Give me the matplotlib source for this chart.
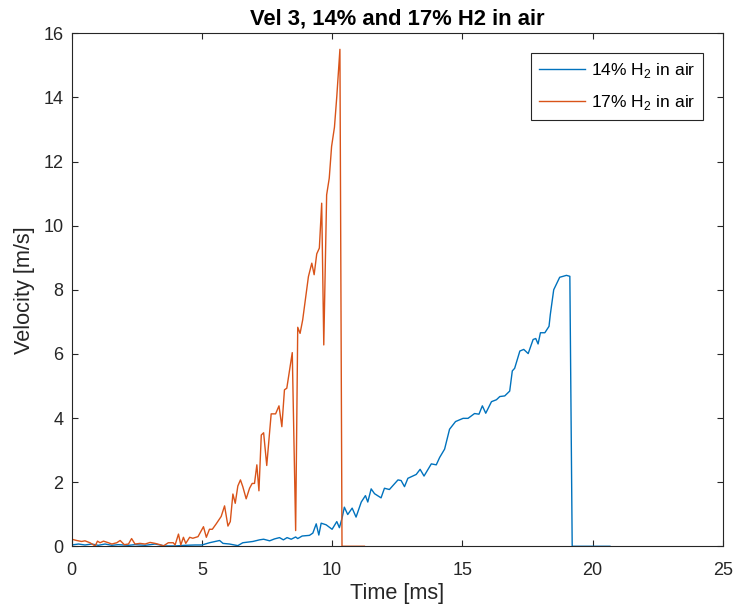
import matplotlib
matplotlib.use("Agg")
import matplotlib.pyplot as plt

# velocity traces (time in ms, velocity in m/s)
t14 = [0, 0.26, 0.51, 0.77, 1.02, 1.28, 1.54, 1.79, 2.18, 2.43, 2.82, 3.20, 3.59, 3.97,
       4.35, 4.74, 5.00, 5.29, 5.68, 5.81, 6.06, 6.38, 6.57, 6.96, 7.21, 7.37, 7.60, 7.79,
       7.98, 8.13, 8.27, 8.43, 8.60, 8.68, 8.85, 9.13, 9.26, 9.39, 9.49, 9.58, 9.77, 10.00,
       10.18, 10.28, 10.38, 10.47, 10.60, 10.77, 10.92, 11.12, 11.28, 11.37, 11.50, 11.63,
       11.88, 12.01, 12.20, 12.53, 12.65, 12.78, 12.91, 13.23, 13.38, 13.53, 13.81, 14.00,
       14.13, 14.32, 14.51, 14.74, 15.03, 15.22, 15.47, 15.64, 15.77, 15.90, 16.12, 16.31,
       16.44, 16.63, 16.82, 16.92, 17.01, 17.21, 17.36, 17.53, 17.72, 17.82, 17.91, 18.00,
       18.17, 18.33, 18.38, 18.51, 18.74, 18.87, 19.00, 19.13, 19.22, 20.67]
v14 = [0.04, 0.07, 0.04, 0.07, 0.03, 0.07, 0.03, 0.05, 0.03, 0.05, 0.03, 0.07, 0.01, 0.01,
       0.03, 0.04, 0.04, 0.11, 0.18, 0.09, 0.07, 0.02, 0.11, 0.15, 0.20, 0.22, 0.17, 0.23,
       0.27, 0.20, 0.27, 0.22, 0.29, 0.24, 0.32, 0.34, 0.41, 0.70, 0.35, 0.72, 0.67, 0.53,
       0.77, 0.58, 0.87, 1.22, 0.99, 1.19, 0.91, 1.38, 1.58, 1.38, 1.79, 1.64,
       1.51, 1.81, 1.77, 2.07, 2.05, 1.86, 2.12, 2.24, 2.40, 2.19, 2.57, 2.54,
       2.77, 3.03, 3.65, 3.89, 3.99, 3.99, 4.14, 4.12, 4.38, 4.15, 4.51, 4.57,
       4.67, 4.69, 4.84, 5.47, 5.55, 6.09, 6.14, 6.01, 6.45, 6.48, 6.31, 6.66,
       6.66, 6.86, 7.23, 8.00, 8.39, 8.42, 8.45, 8.42, 0.0, 0.0]

t17 = [0, 0.19, 0.38, 0.51, 0.70, 0.90, 0.99, 1.09, 1.22, 1.41, 1.54, 1.73, 1.86, 2.02,
       2.18, 2.30, 2.43, 2.62, 2.82, 3.01, 3.20, 3.39, 3.52, 3.71, 3.90, 3.97, 4.10, 4.19,
       4.29, 4.38, 4.53, 4.65, 4.85, 5.06, 5.17, 5.29, 5.40, 5.55, 5.74, 5.87, 6.00, 6.09,
       6.19, 6.28, 6.38, 6.48, 6.57, 6.70, 6.83, 6.93, 7.02, 7.11, 7.19, 7.28, 7.37, 7.49,
       7.66, 7.83, 7.96, 8.07, 8.17, 8.26, 8.47, 8.60, 8.68, 8.77, 8.87, 9.09, 9.22, 9.31,
       9.41, 9.51, 9.60, 9.68, 9.79, 9.89, 9.98, 10.09, 10.18, 10.30, 10.38, 11.24]
v17 = [0.22, 0.18, 0.15, 0.17, 0.11, 0.01, 0.16, 0.11, 0.16, 0.11, 0.07, 0.11, 0.18, 0.05,
       0.07, 0.24, 0.07, 0.09, 0.07, 0.12, 0.09, 0.05, 0.01, 0.11, 0.11, 0.04, 0.38, 0.04,
       0.28, 0.09, 0.28, 0.25, 0.30, 0.61, 0.28, 0.53, 0.53, 0.70, 0.93, 1.26, 0.63, 0.77,
       1.63, 1.34, 1.88, 2.07, 1.86, 1.48, 1.81, 1.96, 1.96, 2.54, 1.73, 3.47, 3.54, 2.52,
       4.13, 4.13, 4.38, 3.73, 4.88, 4.93, 6.04, 0.49, 6.83, 6.64, 7.06, 8.41, 8.83, 8.47,
       9.12, 9.30, 10.70, 6.28, 10.96, 11.48, 12.47, 13.07, 14.03, 15.50, 0.0, 0.0]

labels = [r"14% H$_\mathregular{2}$ in air", r"17% H$_\mathregular{2}$ in air"]
xticks = [0, 5, 10, 15, 20, 25]
yticks = [0, 2, 4, 6, 8, 10, 12, 14, 16]

plt.rcParams["font.family"] = ["Liberation Sans", "DejaVu Sans"]
plt.rcParams["mathtext.fontset"] = "custom"
plt.rcParams["mathtext.rm"] = "Liberation Sans"

dark = "#262626"

fig = plt.figure(figsize=(7.37, 6.12), dpi=100)
ax = fig.add_axes([0.0973, 0.1074, 0.8833, 0.8382])

ax.plot(t14, v14, color="#0072BD", linewidth=1.0, label=labels[0])
ax.plot(t17, v17, color="#D95319", linewidth=1.0, label=labels[1])

ax.set_xlim(0, 25)
ax.set_ylim(0, 16)
ax.set_xticks(xticks)
ax.set_yticks(yticks)
ax.tick_params(direction="in", top=True, right=True, length=4, width=0.8,
               colors=dark, labelsize=13)
ax.tick_params(axis="x", pad=11)
ax.tick_params(axis="y", pad=6)
for s in ax.spines.values():
    s.set_color(dark)
    s.set_linewidth(0.8)

ax.set_title("Vel 3, 14% and 17% H2 in air", fontsize=15.8, fontweight="bold", pad=6)
ax.set_xlabel("Time [ms]", fontsize=15.7, color=dark, labelpad=3)
ax.set_ylabel("Velocity [m/s]", fontsize=15.7, color=dark, labelpad=6)

leg = ax.legend(loc="upper right", bbox_to_anchor=(0.970, 0.961), borderaxespad=0,
                fontsize=12.6, fancybox=False, framealpha=1, edgecolor=dark,
                handlelength=2.6, handletextpad=0.35, labelspacing=0.75,
                borderpad=0.45)
leg.get_frame().set_linewidth(0.8)

fig.savefig("out.png", dpi=100)
